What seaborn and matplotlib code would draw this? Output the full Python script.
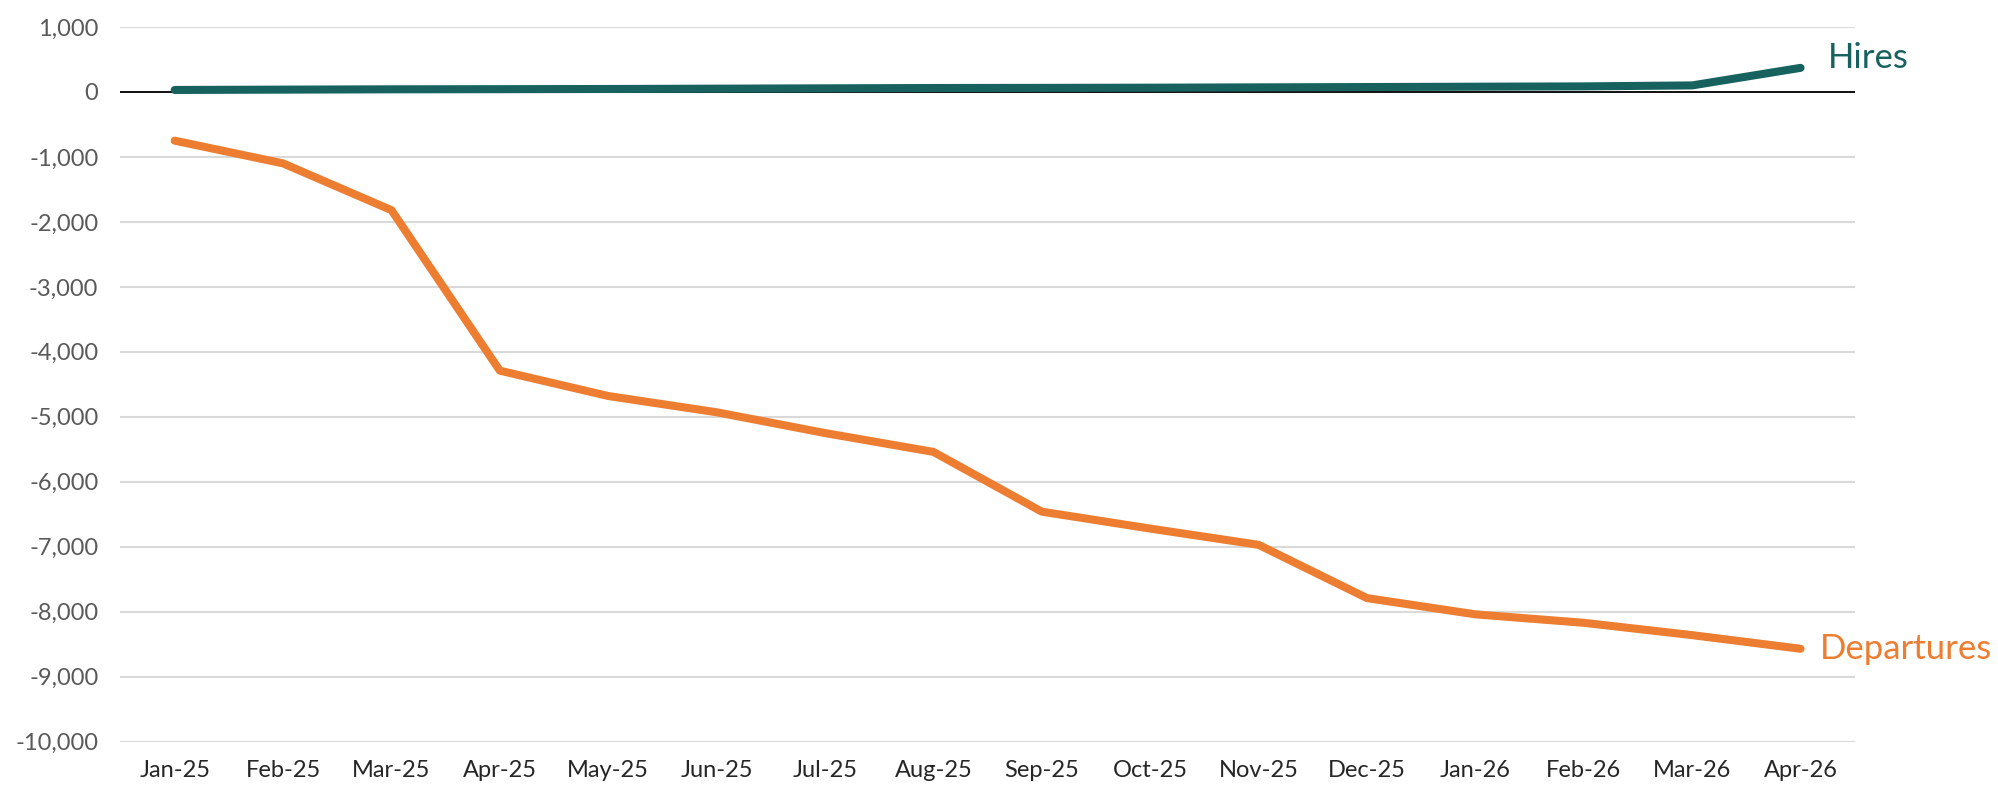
import numpy as np
import pandas as pd
import matplotlib.pyplot as plt
import seaborn as sns

sns.set_style("white")
plt.rcParams['font.family'] = ['Lato', 'DejaVu Sans']

months = ["Jan-25", "Feb-25", "Mar-25", "Apr-25", "May-25", "Jun-25", "Jul-25", "Aug-25",
          "Sep-25", "Oct-25", "Nov-25", "Dec-25", "Jan-26", "Feb-26", "Mar-26", "Apr-26"]
hires = [30, 35, 40, 42, 45, 50, 55, 60, 62, 65, 70, 75, 80, 85, 100, 370]
departures = [-750, -1100, -1820, -4290, -4680, -4930, -5250, -5540,
              -6460, -6720, -6970, -7790, -8040, -8170, -8360, -8570]
yticks = list(range(-10000, 1001, 1000))

teal = "#17625E"
orange = "#ED7D31"

df = pd.DataFrame({"Month": months * 2,
                   "x": list(range(len(months))) * 2,
                   "Value": hires + departures,
                   "Series": ["Hires"] * len(months) + ["Departures"] * len(months)})

fig = plt.figure(figsize=(19.98, 7.92), dpi=100)
ax = fig.add_axes([0.0603, 0.0635, 0.868, 0.9025])

ax.set_yticks(yticks)
ax.grid(axis="y", color="#D9D9D9", linewidth=1.5)
ax.set_axisbelow(True)
ax.axhline(0, color="black", linewidth=1.3, zorder=2)

sns.lineplot(data=df, x="x", y="Value", hue="Series",
             palette={"Hires": teal, "Departures": orange},
             linewidth=5.8, legend=False, ax=ax, zorder=3,
             solid_capstyle="round")

ax.set_xlim(-0.5, len(months) - 0.5)
ax.set_ylim(-10000, 1000)
ax.set_xticks(range(len(months)))
ax.set_xticklabels(months)
ax.yaxis.set_major_formatter(plt.FuncFormatter(lambda v, p: f"{int(v):,}"))
ax.tick_params(axis="y", length=0, labelsize=17, colors="#595959", pad=16)
ax.tick_params(axis="x", length=0, labelsize=17, colors="#262626", pad=13)
ax.set_xlabel("")
ax.set_ylabel("")
for s in ax.spines.values():
    s.set_visible(False)

ax.text(len(months) - 1 + 0.25, hires[-1] + 150, "Hires", color=teal,
        fontsize=25, va="center", ha="left", clip_on=False)
ax.text(len(months) - 1 + 0.18, departures[-1], "Departures", color=orange,
        fontsize=25, va="center", ha="left", clip_on=False)

fig.savefig("out.png", dpi=100)
